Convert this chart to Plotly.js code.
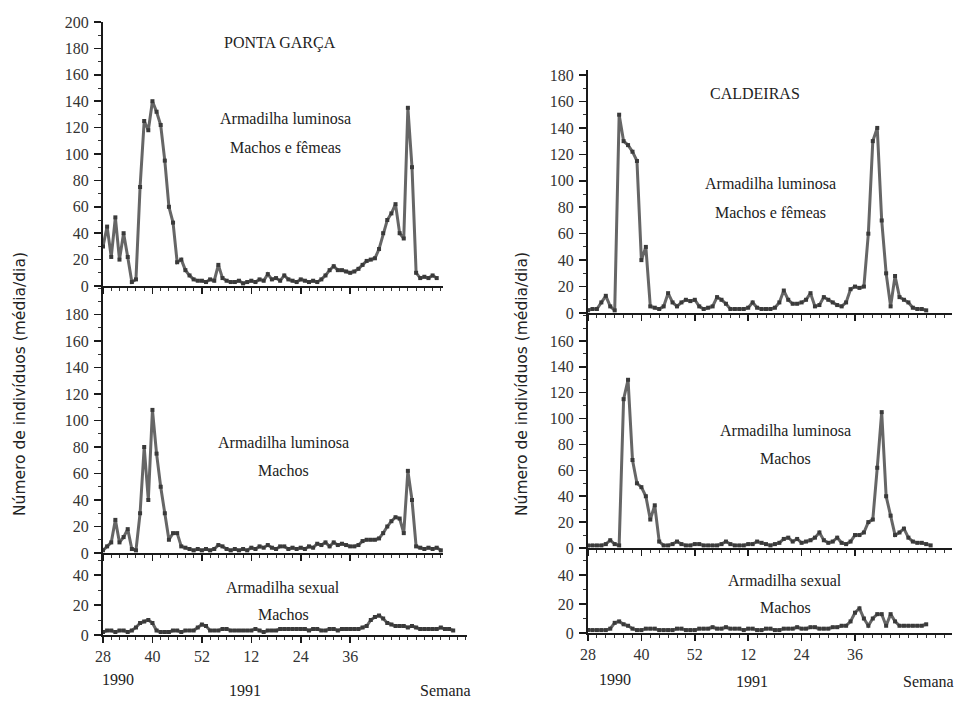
<!DOCTYPE html>
<html><head><meta charset="utf-8">
<script src="https://cdn.plot.ly/plotly-3.0.1.min.js"></script>
<style>body{margin:0;background:#fff}#c{width:969px;height:701px}</style>
</head><body><div id="c"></div>
<script>
// Week index: 0 = week 28 of 1990
const tickVals = [0, 12, 24, 36, 48, 60];
const tickText = ['28', '40', '52', '12', '24', '36'];

// PONTA GARÇA
const pgLuzMF = [30,45,22,52,20,40,22,3,5,75,125,118,140,132,122,95,60,48,18,20,12,8,5,4,4,3,5,4,16,6,4,3,3,4,2,3,4,3,5,4,9,5,6,4,8,5,4,3,5,4,3,4,3,5,8,12,15,12,12,11,10,11,13,16,19,20,21,28,40,50,55,62,40,36,135,90,10,6,7,6,8,6];
const pgLuzM = [2,5,8,25,8,12,18,3,2,30,80,40,108,75,50,30,10,15,15,5,4,3,2,3,2,3,2,3,6,5,3,2,3,2,3,2,4,3,5,4,6,4,3,5,5,3,4,3,4,3,5,4,7,6,8,5,8,6,7,6,5,5,6,9,10,10,10,11,15,20,24,27,26,15,62,40,5,4,3,4,3,4,2];
const pgSexM = [2,3,3,2,3,3,2,3,5,8,9,10,8,3,2,2,2,3,3,2,3,3,3,5,7,6,3,3,3,4,4,3,3,3,3,3,3,4,3,2,3,3,3,4,4,4,4,4,4,4,3,4,4,3,3,4,4,3,4,4,4,4,4,5,6,10,12,13,11,8,7,6,6,6,5,6,5,4,4,4,4,4,5,4,4,3];

// CALDEIRAS
const caLuzMF = [2,3,3,8,13,5,2,150,130,127,122,115,40,50,5,4,3,5,15,8,5,8,10,9,10,5,3,4,5,12,10,7,3,3,3,3,4,8,4,3,3,3,4,8,17,10,7,7,8,10,15,5,6,12,10,8,6,5,8,18,20,19,20,60,130,140,70,30,5,28,12,10,8,4,3,3,2];
const caLuzM = [2,2,2,2,3,6,3,2,115,130,68,50,47,40,22,33,5,2,2,3,5,3,2,2,3,3,2,2,2,2,3,5,3,2,2,2,3,3,5,4,3,2,3,4,7,8,5,7,4,5,6,8,12,6,4,5,8,4,3,5,10,10,12,20,22,62,105,40,25,10,12,15,8,5,4,4,3,2];
const caSexM = [2,2,2,2,2,3,7,8,6,5,3,2,2,3,3,3,2,2,2,2,3,3,2,2,2,3,3,3,4,3,3,4,3,3,3,2,3,3,2,2,3,3,2,2,3,3,3,4,3,3,4,4,3,3,3,4,4,5,5,8,14,17,10,5,10,13,13,5,13,8,5,5,5,5,5,5,6];

const W = 969, H = 701;
const fx = p => p / W;
const fy = p => 1 - p / H;
const idx = a => a.map((_, i) => i);

const serif = 'Liberation Serif, Times New Roman, serif';
const lineC = '#666666';
function trace(vals, xa, ya) {
  return {x: idx(vals), y: vals, xaxis: xa, yaxis: ya, type: 'scatter', mode: 'lines+markers',
    line: {color: lineC, width: 3}, marker: {symbol: 'square', size: 4, color: '#3a3a3a'},
    hoverinfo: 'x+y', showlegend: false};
}
const data = [
  trace(pgLuzMF, 'x', 'y'), trace(pgLuzM, 'x2', 'y2'), trace(pgSexM, 'x3', 'y3'),
  trace(caLuzMF, 'x4', 'y4'), trace(caLuzM, 'x5', 'y5'), trace(caSexM, 'x6', 'y6')
];

function xax(x0, x1, pxPerWeek, anchor, labels) {
  return {domain: [fx(x0), fx(x1)], range: [0, (x1 - x0) / pxPerWeek], anchor: anchor,
    showline: true, linecolor: '#1a1a1a', linewidth: 2, zeroline: false, showgrid: false,
    tickmode: 'array', tickvals: tickVals, ticktext: tickText, showticklabels: labels,
    ticks: 'outside', ticklen: 6, tickwidth: 1.5, tickcolor: '#1a1a1a',
    minor: {tickmode: 'linear', tick0: 0, dtick: 2, ticks: 'outside', ticklen: 3, tickcolor: '#333', tickwidth: 1},
    tickfont: {family: serif, size: 16, color: '#333'}, fixedrange: true};
}
function yax(pTop, pZero, pxPerUnit, anchor, tv) {
  return {domain: [fy(pZero), fy(pTop)], range: [0, (pZero - pTop) / pxPerUnit], anchor: anchor,
    showline: true, linecolor: '#1a1a1a', linewidth: 2, zeroline: false, showgrid: false,
    tickmode: 'array', tickvals: tv, ticks: 'outside', ticklen: 7, tickwidth: 1.5, tickcolor: '#1a1a1a',
    minor: {tickmode: 'linear', tick0: 0, dtick: 10, ticks: 'outside', ticklen: 3, tickcolor: '#333', tickwidth: 1},
    tickfont: {family: serif, size: 16, color: '#333'}, ticklabelstandoff: 2, fixedrange: true};
}
const r = (a, b, s) => { const o = []; for (let v = a; v <= b; v += s) o.push(v); return o; };

const layout = {
  width: W, height: H, margin: {l: 0, r: 0, t: 0, b: 0},
  paper_bgcolor: '#fff', plot_bgcolor: 'rgba(0,0,0,0)',
  xaxis: xax(103, 443, 4.12, 'y', false),
  yaxis: yax(22, 286, 1.32, 'x', r(0, 200, 20)),
  xaxis2: xax(103, 443, 4.12, 'y2', false),
  yaxis2: yax(286, 553, 1.325, 'x2', r(0, 180, 20)),
  xaxis3: xax(103, 467, 4.12, 'y3', true),
  yaxis3: yax(553, 635, 1.5, 'x3', [0, 20, 40]),
  xaxis4: xax(588, 952, 4.45, 'y4', false),
  yaxis4: yax(70, 313, 1.322, 'x4', r(0, 180, 20)),
  xaxis5: xax(588, 952, 4.45, 'y5', false),
  yaxis5: yax(313, 548, 1.294, 'x5', r(0, 160, 20)),
  xaxis6: xax(588, 952, 4.45, 'y6', true),
  yaxis6: yax(548, 633, 1.45, 'x6', [0, 20, 40]),
  annotations: []
};
const A = layout.annotations;
function txt(t, px, py, size, extra) {
  A.push(Object.assign({text: t, xref: 'paper', yref: 'paper', x: fx(px), y: fy(py), showarrow: false,
    xanchor: 'center', yanchor: 'middle', font: {family: serif, size: size, color: '#222'}}, extra || {}));
}
txt('PONTA GARÇA', 280, 43, 16);
txt('CALDEIRAS', 755, 93, 16);
txt('Armadilha luminosa', 285, 118, 16);
txt('Machos e fêmeas', 285, 147, 16);
txt('Armadilha luminosa', 770, 183, 16);
txt('Machos e fêmeas', 770, 212, 16);
txt('Armadilha luminosa', 283, 442, 16);
txt('Machos', 283, 470, 16);
txt('Armadilha luminosa', 785, 430, 16);
txt('Machos', 785, 458, 16);
txt('Armadilha sexual', 283, 587, 16);
txt('Machos', 283, 614, 16);
txt('Armadilha sexual', 785, 580, 16);
txt('Machos', 785, 607, 16);
txt('1990', 118, 679, 16);
txt('1991', 245, 690, 16);
txt('Semana', 445, 690, 16);
txt('1990', 615, 679, 16);
txt('1991', 752, 681, 16);
txt('Semana', 928, 681, 16);
const titleFont = {family: 'DejaVu Sans, sans-serif', size: 15.5, color: '#222'};
txt('Número de indivíduos (média/dia)', 20, 384, 16, {textangle: -90, font: titleFont});
txt('Número de indivíduos (média/dia)', 522, 384, 16, {textangle: -90, font: titleFont});

Plotly.newPlot('c', data, layout, {displayModeBar: false, staticPlot: true});
</script>
</body></html>
